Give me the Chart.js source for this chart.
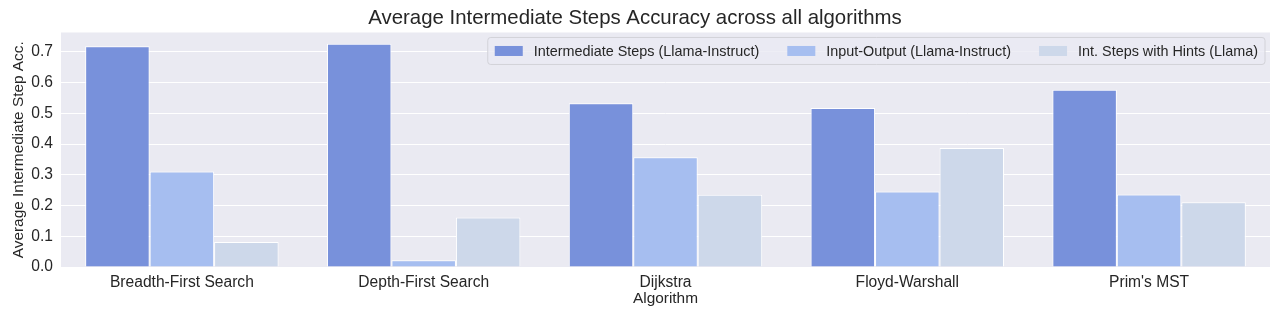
<!DOCTYPE html>
<html>
<head>
<meta charset="utf-8">
<script src="https://cdn.jsdelivr.net/npm/chart.js@4.4.1/dist/chart.umd.min.js"></script>
<style>
  html, body { margin: 0; padding: 0; background: #ffffff; }
  #wrap { width: 1280px; height: 320px; }
</style>
</head>
<body>
<div id="wrap"><canvas id="myChart" width="1280" height="320"></canvas></div>
<script>
(function () {
    "use strict";

    const algorithms = ['Breadth-First Search', 'Depth-First Search', 'Dijkstra', 'Floyd-Warshall', "Prim's MST"];
    const intermediateSteps = [0.718, 0.726, 0.533, 0.517, 0.577];
    const inputOutput = [0.311, 0.022, 0.357, 0.246, 0.236];
    const stepsWithHints = [0.081, 0.161, 0.235, 0.387, 0.211];
    const yTicks = [0.0, 0.1, 0.2, 0.3, 0.4, 0.5, 0.6, 0.7];

    const FONT = "'Liberation Sans', Arial, sans-serif";
    const TEXT = '#262626';

    // grey seaborn-like plot background
    const plotBg = {
        id: 'plotBg',
        beforeDraw(chart) {
            const a = chart.chartArea, ctx = chart.ctx;
            ctx.save();
            ctx.fillStyle = '#eaeaf2';
            ctx.fillRect(a.left, a.top, a.right - a.left, a.bottom - a.top);
            ctx.restore();
        }
    };

    // legend drawn inside the plot, upper right
    const innerLegend = {
        id: 'innerLegend',
        afterDatasetsDraw(chart) {
            const ctx = chart.ctx, a = chart.chartArea;
            ctx.save();
            ctx.font = '14.4px ' + FONT;
            const patchW = 28, patchH = 10, gapA = 11, gapB = 28, pad = 7;
            const items = chart.data.datasets.map(d => ({
                label: d.label, color: d.backgroundColor, w: ctx.measureText(d.label).width
            }));
            let total = pad * 2;
            items.forEach((it, i) => { total += patchW + gapA + it.w + (i < items.length - 1 ? gapB : 0); });
            const right = a.right - 5, top = a.top + 5, h = 27;
            const left = right - total;
            ctx.beginPath();
            ctx.roundRect(left, top, total, h, 3);
            ctx.fillStyle = 'rgba(234,234,242,0.8)';
            ctx.fill();
            ctx.strokeStyle = '#d2d2d8';
            ctx.lineWidth = 1;
            ctx.stroke();
            let x = left + pad;
            const cy = top + h / 2;
            items.forEach(it => {
                ctx.fillStyle = it.color;
                ctx.fillRect(x, cy - patchH / 2, patchW, patchH);
                x += patchW + gapA;
                ctx.fillStyle = TEXT;
                ctx.textBaseline = 'middle';
                ctx.fillText(it.label, x, cy + 1);
                x += it.w + gapB;
            });
            ctx.restore();
        }
    };

    const ctx = document.getElementById('myChart').getContext('2d');
    new Chart(ctx, {
        type: 'bar',
        data: {
            labels: algorithms,
            datasets: [
                {
                    label: 'Intermediate Steps (Llama-Instruct)',
                    data: intermediateSteps,
                    backgroundColor: '#7891db',
                    borderColor: '#ffffff',
                    borderWidth: 1
                },
                {
                    label: 'Input-Output (Llama-Instruct)',
                    data: inputOutput,
                    backgroundColor: '#a6bef0',
                    borderColor: '#ffffff',
                    borderWidth: 1
                },
                {
                    label: 'Int. Steps with Hints (Llama)',
                    data: stepsWithHints,
                    backgroundColor: '#cdd8ea',
                    borderColor: '#ffffff',
                    borderWidth: 1
                }
            ]
        },
        options: {
            responsive: false,
            animation: false,
            layout: { padding: { left: 0, right: 10, top: 0, bottom: 0 } },
            datasets: { bar: { categoryPercentage: 0.8, barPercentage: 1.0 } },
            plugins: {
                legend: { display: false },
                tooltip: { enabled: false },
                title: {
                    display: true,
                    text: 'Average Intermediate Steps Accuracy across all algorithms',
                    color: TEXT,
                    font: { family: FONT, size: 20.4, weight: 'normal' },
                    padding: { top: 6, bottom: 2 }
                }
            },
            scales: {
                x: {
                    grid: { display: false },
                    border: { display: false },
                    ticks: { color: TEXT, font: { family: FONT, size: 15.6 }, padding: -2, maxRotation: 0 },
                    title: {
                        display: true, text: 'Algorithm', color: TEXT,
                        font: { family: FONT, size: 15.4 },
                        padding: { top: 0, bottom: 12 }
                    },
                    afterFit(s) { s.height = 53; }
                },
                y: {
                    min: 0,
                    max: 0.763,
                    grid: { color: '#ffffff', lineWidth: 1, drawTicks: false },
                    border: { display: false },
                    afterBuildTicks(s) { s.ticks = yTicks.map(v => ({ value: v })); },
                    ticks: {
                        color: TEXT, font: { family: FONT, size: 15.6 }, padding: 8,
                        callback: v => Number(v).toFixed(1)
                    },
                    title: {
                        display: true, text: 'Average Intermediate Step Acc.', color: TEXT,
                        font: { family: FONT, size: 15.4 },
                        padding: { top: 10, bottom: 0 }
                    },
                    afterFit(s) { s.width = 61; }
                }
            }
        },
        plugins: [plotBg, innerLegend]
    });
})();
</script>
</body>
</html>
